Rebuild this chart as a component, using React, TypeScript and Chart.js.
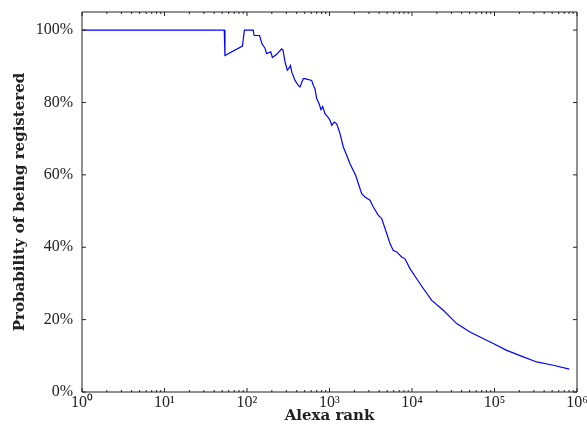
import React, { useEffect, useRef } from "react";
import { Chart, registerables } from "chart.js";

Chart.register(...registerables);

// Alexa rank (x) and probability of being registered in % (y)
const ranks: number[] = [
  1, 53, 54, 88, 93, 119, 122, 142, 152, 165, 173, 194, 203, 229, 263, 273, 289, 308, 326, 336, 350,
  382, 419, 439, 481, 505, 608, 637, 667, 700, 747, 789, 827, 882, 951, 1014, 1064, 1143, 1222,
  1279, 1341, 1470, 1616, 1772, 1943, 2078, 2235, 2455, 2692, 3096, 3396, 3906, 4295, 4937, 5412,
  5935, 6531, 7502, 8222, 9455, 11400, 13710, 17340, 23950, 34820, 50480, 66680, 96650, 140500,
  223400, 324800, 516300, 806900,
];
const probabilities: number[] = [
  100, 100, 93.0, 95.6, 100, 100, 98.5, 98.5, 96.2, 95.0, 93.5, 94.0, 92.4, 93.3, 94.8, 94.5, 91.2,
  88.9, 89.6, 90.2, 88.3, 86.1, 84.7, 84.3, 86.6, 86.6, 86.1, 84.7, 83.8, 81.0, 79.7, 78.0, 78.9,
  76.9, 76.0, 75.1, 73.7, 74.6, 74.1, 72.8, 71.4, 67.7, 65.4, 63.1, 61.2, 59.8, 57.6, 54.8, 53.9,
  53.0, 51.1, 48.8, 47.9, 43.8, 41.0, 39.1, 38.7, 37.3, 36.8, 34.1, 31.3, 28.6, 25.3, 22.6, 18.9,
  16.6, 15.2, 13.4, 11.5, 9.7, 8.3, 7.4, 6.3,
];
const xDecades: number[] = [0, 1, 2, 3, 4, 5, 6];
const yTicks: number[] = [0, 20, 40, 60, 80, 100];
const superscripts: string[] = ["⁰", "¹", "²", "³", "⁴", "⁵", "⁶"];

const TEXT = "#222";
const TICK_FONT = { family: "'Liberation Serif', serif", size: 16 };
const TITLE_FONT = { family: "'DejaVu Serif', serif", size: 15, weight: "bold" as const };

const framePlugin = {
  id: "frameTicks",
  afterDatasetsDraw(chart: any) {
    const { ctx, chartArea: a, scales } = chart;
    const xs = scales.x;
    const ys = scales.y;
    ctx.save();
    ctx.strokeStyle = TEXT;
    ctx.lineWidth = 1;
    ctx.beginPath();
    ctx.rect(a.left, a.top, a.right - a.left, a.bottom - a.top);
    ctx.stroke();
    ctx.beginPath();
    xs.ticks.forEach((t: any) => {
      const px = xs.getPixelForValue(t.value);
      const exp = Math.log10(t.value);
      const major = Math.abs(exp - Math.round(exp)) < 1e-9;
      const len = major ? 4 : 2;
      ctx.moveTo(px, a.bottom);
      ctx.lineTo(px, a.bottom - len);
      ctx.moveTo(px, a.top);
      ctx.lineTo(px, a.top + len);
    });
    ys.ticks.forEach((t: any) => {
      const py = ys.getPixelForValue(t.value);
      ctx.moveTo(a.left, py);
      ctx.lineTo(a.left + 4, py);
      ctx.moveTo(a.right, py);
      ctx.lineTo(a.right - 4, py);
    });
    ctx.stroke();
    ctx.restore();
  },
};

export default function App() {
  const ref = useRef<HTMLCanvasElement | null>(null);

  useEffect(() => {
    if (!ref.current) return;
    const data = ranks.map((r, i) => ({ x: r, y: probabilities[i] }));
    const chart = new Chart(ref.current, {
      type: "line",
      data: {
        datasets: [
          {
            data,
            borderColor: "#0000ff",
            borderWidth: 1.2,
            pointRadius: 0,
            tension: 0,
            fill: false,
          },
        ],
      },
      options: {
        animation: false,
        responsive: false,
        events: [],
        layout: { padding: { top: 12, right: 10, left: 0, bottom: 0 } },
        plugins: { legend: { display: false }, tooltip: { enabled: false } },
        scales: {
          x: {
            type: "logarithmic",
            min: 1,
            max: 1e6,
            grid: { display: false, drawTicks: false },
            border: { display: false },
            afterBuildTicks: (scale: any) => {
              const t: any[] = [];
              xDecades.forEach((d) => {
                if (d === 6) {
                  t.push({ value: Math.pow(10, d) });
                } else {
                  for (let m = 1; m <= 9; m++) t.push({ value: m * Math.pow(10, d) });
                }
              });
              scale.ticks = t;
            },
            afterFit: (scale: any) => {
              scale.height = 40;
              scale.paddingLeft = 0;
              scale.paddingRight = 0;
            },
            ticks: {
              autoSkip: false,
              maxRotation: 0,
              minRotation: 0,
              padding: 1,
              color: TEXT,
              font: TICK_FONT,
              callback: (v: any) => {
                const e = Math.log10(Number(v));
                if (Math.abs(e - Math.round(e)) < 1e-9) return "10" + superscripts[Math.round(e)];
                return "";
              },
            },
            title: {
              display: true,
              text: "Alexa rank",
              color: TEXT,
              font: TITLE_FONT,
              padding: { top: 0, bottom: 7 },
            },
          },
          y: {
            type: "linear",
            min: 0,
            max: 105,
            grid: { display: false, drawTicks: false },
            border: { display: false },
            afterBuildTicks: (scale: any) => {
              scale.ticks = yTicks.map((v) => ({ value: v }));
            },
            afterFit: (scale: any) => {
              scale.width = 82;
              scale.paddingTop = 0;
              scale.paddingBottom = 0;
            },
            ticks: {
              padding: 9,
              color: TEXT,
              font: TICK_FONT,
              callback: (v: any) => `${v}%`,
            },
            title: {
              display: true,
              text: "Probability of being registered",
              color: TEXT,
              font: TITLE_FONT,
              padding: { top: 11, bottom: 0 },
            },
          },
        },
      },
      plugins: [framePlugin],
    });
    return () => chart.destroy();
  }, []);

  return (
    <div style={{ position: "absolute", left: 0, top: 0, width: 587, height: 432 }}>
      <canvas ref={ref} width={587} height={432} />
    </div>
  );
}
